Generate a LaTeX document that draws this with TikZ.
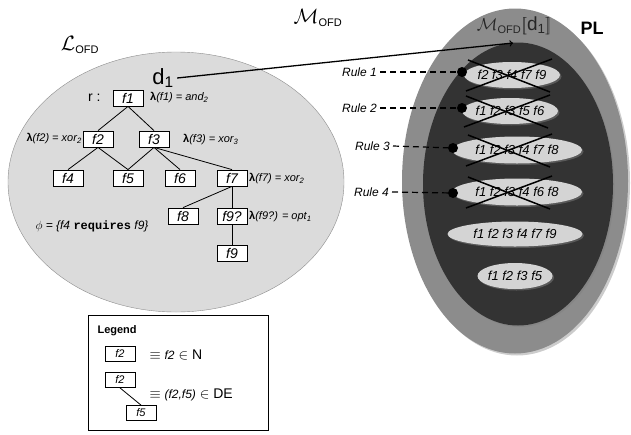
\documentclass[tikz,border=0pt]{standalone}
\usepackage{fontspec}
\setmainfont{Liberation Sans}
\newfontfamily\codefont{Liberation Mono}
\usetikzlibrary{arrows,calc,shapes.geometric,shadows}
\newcommand{\ofd}{_{\hbox{\fontsize{11}{11}\selectfont OFD}}}
\newcommand{\lamlabel}[3]{{\bfseries λ}\textit{(#1) = #2\textsubscript{#3}}}

\begin{document}
\begin{tikzpicture}[x=1pt,y=-1pt]
\tikzset{fbox/.style={draw,fill=white,line width=0.8pt,minimum width=30pt,minimum height=16pt,inner sep=0pt,font=\fontsize{14}{14}\selectfont\itshape}}
\tikzset{smallbox/.style={fbox,minimum height=15pt,font=\fontsize{11}{11}\selectfont\itshape}}
\tikzset{lam/.style={font=\fontsize{11}{11}\selectfont,inner sep=1pt}}
\tikzset{pill/.style={ellipse,fill=black!17,inner sep=0pt,drop shadow={opacity=0.5,shadow xshift=1.5pt,shadow yshift=-1.5pt}}}
\tikzset{pilltext/.style={font=\fontsize{13}{13}\selectfont\itshape,inner sep=0pt}}
\tikzset{rulelabel/.style={font=\fontsize{12}{12}\selectfont\itshape,anchor=east,inner sep=0pt}}
\tikzset{dot/.style={circle,fill=black,inner sep=0pt,minimum size=10pt}}
\tikzset{strike/.style={line width=1.5pt}}
\tikzset{edge/.style={line width=0.8pt}}

\useasboundingbox (0,0) rectangle (631,434);

\node[ellipse,draw=black!45,fill=black!14,minimum width=336,minimum height=260] (lofd) at (176,182) {};
\node[font=\fontsize{21}{21}\selectfont] (ltitle) at (80,45) {$\mathcal{L}\ofd$};
\node[font=\fontsize{21}{21}\selectfont] (mtitle) at (318,18) {$\mathcal{M}\ofd$};

\node[ellipse,fill=black!45,minimum width=226,minimum height=345,drop shadow={opacity=0.4,shadow xshift=2pt,shadow yshift=-2pt}] (pl) at (515,181) {};
\node[ellipse,fill=black!80,minimum width=190,minimum height=283,drop shadow={opacity=0.5,shadow xshift=1.5pt,shadow yshift=-1.5pt}] (mdone) at (518,184) {};
\node[font=\fontsize{18}{18}\selectfont\bfseries] (pltitle) at (592,28) {PL};
\node[font=\fontsize{19}{19}\selectfont,text=black!85] (mdtitle) at (514,26) {$\mathcal{M}\ofd[\![$d\textsubscript{1}$]\!]$};

\node[fbox] (f1) at (128,98) {f1};
\node[fbox] (f2) at (98,139) {f2};
\node[fbox] (f3) at (154,139) {f3};
\node[fbox] (f4) at (68,178) {f4};
\node[fbox] (f5) at (128,178) {f5};
\node[fbox] (f6) at (180,178) {f6};
\node[fbox] (f7) at (232,178) {f7};
\node[fbox] (f8) at (183,216) {f8};
\node[fbox] (f9o) at (232,216) {f9?};
\node[fbox] (f9) at (232,253) {f9};

\draw[edge] (f1.south) -- (f2.north);
\draw[edge] (f1.south) -- (f3.north);
\draw[edge] (f2.south) -- (f4.north);
\draw[edge] (f2.south) -- (f5.north);
\draw[edge] (f3.south) -- (f5.north);
\draw[edge] (f3.south) -- (f6.north);
\draw[edge] (f3.south) -- (f7.north);
\draw[edge] (f7.south) -- (f8.north);
\draw[edge] (f7.south) -- (f9o.north);
\draw[edge] (f9o.south) -- (f9.north);

\node[font=\fontsize{14}{14}\selectfont,anchor=east] (root) at (104,98) {r :};
\node[lam,anchor=west] (lamf1) at (149,98) {\lamlabel{f1}{and}{2}};
\node[lam,anchor=east] (lamf2) at (83,139) {\lamlabel{f2}{xor}{2}};
\node[lam,anchor=west] (lamf3) at (182,140) {\lamlabel{f3}{xor}{3}};
\node[lam,anchor=west] (lamf7) at (248,179) {\lamlabel{f7}{xor}{2}};
\node[lam,anchor=west] (lamf9) at (248,217) {\lamlabel{f9?}{opt}{1}};
\node[lam,font=\fontsize{12}{12}\selectfont\itshape] (phi) at (92,226) {$\phi$ = \{f4 {\codefont\bfseries\upshape requires} f9\}};

\node[font=\fontsize{22}{22}\selectfont] (d1) at (163,78) {d\textsubscript{1}};

\node[pill,minimum width=96,minimum height=26] (e1) at (512,75) {};
\node[pill,minimum width=96,minimum height=26] (e2) at (510,111) {};
\node[pill,minimum width=130,minimum height=27] (e3) at (517,150) {};
\node[pill,minimum width=130,minimum height=27] (e4) at (517,192) {};
\node[pill,minimum width=135,minimum height=25] (e5) at (515,234) {};
\node[pill,minimum width=75,minimum height=26] (e6) at (515,276) {};

\node[pilltext] (t1) at (e1) {f2 f3 f4 f7 f9};
\node[pilltext] (t2) at (e2) {f1 f2 f3 f5 f6};
\node[pilltext] (t3) at (e3) {f1 f2 f3 f4 f7 f8};
\node[pilltext] (t4) at (e4) {f1 f2 f3 f4 f6 f8};
\node[pilltext] (t5) at (e5) {f1 f2 f3 f4 f7 f9};
\node[pilltext] (t6) at (e6) {f1 f2 f3 f5};

\foreach \e/\dx in {e1/0,e2/0,e3/-5,e4/-5} {
  \draw[strike] ($(\e)+(-44+\dx,-15)$) -- ($(\e)+(38+\dx,17)$);
  \draw[strike] ($(\e)+(40+\dx,-16)$) -- ($(\e)+(-46+\dx,16)$);
}

\node[dot] (p1) at (462,72) {};
\node[dot] (p2) at (462,108) {};
\node[dot] (p3) at (453,148) {};
\node[dot] (p4) at (453,193) {};
\node[rulelabel] (r1) at (377,72) {Rule 1};
\node[rulelabel] (r2) at (377,108) {Rule 2};
\node[rulelabel] (r3) at (390,146) {Rule 3};
\node[rulelabel] (r4) at (389,192) {Rule 4};
\foreach \r/\p in {r1/p1,r2/p2,r3/p3,r4/p4}
  \draw[line width=1.2pt,dash pattern=on 6pt off 4pt] ([xshift=3pt]\r.east) -- (\p);

\coordinate (tip) at (513,43);
\draw[line width=1.3pt,-to] (d1.east) -- (tip);

\node[draw,line width=1.3pt,minimum width=180,minimum height=115,anchor=north west] (legend) at (88,315) {};
\node[font=\fontsize{11}{11}\selectfont\bfseries,anchor=west] (legtitle) at (94,331) {Legend};
\node[smallbox] (lf2) at (120,354) {f2};
\node[smallbox] (lf2b) at (120,380) {f2};
\node[smallbox] (lf5) at (141,413) {f5};
\draw[edge] (lf2b.south) -- (lf5.north);
\node[font=\fontsize{14}{14}\selectfont,anchor=west] (legnode) at (146,355) {$\equiv$ {\fontsize{12}{12}\selectfont\itshape f2} $\in$ N};
\node[font=\fontsize{14}{14}\selectfont,anchor=west] (legedge) at (146,395) {$\equiv$ {\fontsize{12}{12}\selectfont\itshape (f2,f5)} $\in$ DE};
\end{tikzpicture}
\end{document}
